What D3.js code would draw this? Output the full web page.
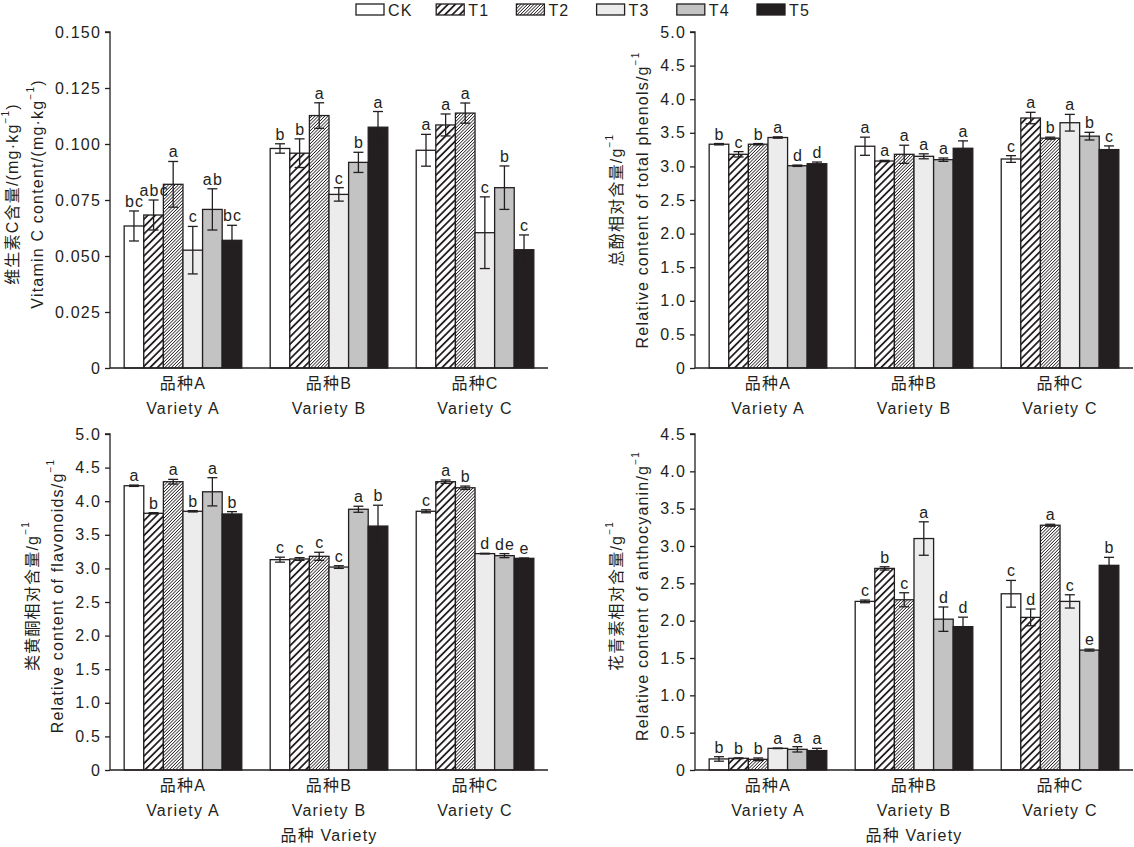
<!DOCTYPE html>
<html>
<head>
<meta charset="utf-8">
<script src="https://cdn.jsdelivr.net/npm/d3@7"></script>
<style>
  body { margin: 0; background: #fff; }
  svg text { font-family: "Liberation Sans", Arial, "Noto Sans CJK SC", sans-serif; fill: #231f20; letter-spacing: 1.2px; }
</style>
</head>
<body>
<div id="chart"></div>
<script>
// categories and treatments
const varieties = ['品种A', '品种B', '品种C'];
const varietiesEn = ['Variety A', 'Variety B', 'Variety C'];
const treatments = ['CK', 'T1', 'T2', 'T3', 'T4', 'T5'];

// Vitamin C content (mg/kg), rows = variety, cols = treatment
const vcMean = [[0.0634, 0.0683, 0.0820, 0.0526, 0.0708, 0.0570],
                [0.0980, 0.0959, 0.1127, 0.0775, 0.0918, 0.1075],
                [0.0972, 0.1085, 0.1138, 0.0604, 0.0805, 0.0528]];
const vcErr  = [[0.0067, 0.0067, 0.0102, 0.0106, 0.0092, 0.0067],
                [0.0021, 0.0064, 0.0057, 0.0030, 0.0045, 0.0070],
                [0.0071, 0.0049, 0.0045, 0.0160, 0.0097, 0.0066]];
const vcSig  = [['bc', 'abc', 'a', 'c', 'ab', 'bc'],
                ['b', 'b', 'a', 'c', 'b', 'a'],
                ['a', 'a', 'a', 'c', 'b', 'c']];

// total phenols
const tpMean = [[3.33, 3.18, 3.33, 3.43, 3.01, 3.04],
                [3.30, 3.08, 3.18, 3.15, 3.10, 3.27],
                [3.11, 3.72, 3.42, 3.65, 3.45, 3.25]];
const tpErr  = [[0.01, 0.04, 0.01, 0.01, 0.01, 0.025],
                [0.135, 0.01, 0.135, 0.037, 0.025, 0.11],
                [0.05, 0.085, 0.015, 0.124, 0.057, 0.055]];
const tpSig  = [['b', 'c', 'b', 'a', 'd', 'd'],
                ['a', 'a', 'a', 'a', 'a', 'a'],
                ['c', 'a', 'b', 'a', 'b', 'c']];

// flavonoids
const flMean = [[4.23, 3.82, 4.29, 3.85, 4.14, 3.81],
                [3.13, 3.14, 3.18, 3.02, 3.88, 3.63],
                [3.85, 4.29, 4.20, 3.22, 3.19, 3.15]];
const flErr  = [[0.01, 0.01, 0.035, 0.01, 0.21, 0.035],
                [0.037, 0.02, 0.06, 0.02, 0.045, 0.31],
                [0.022, 0.025, 0.025, 0.005, 0.03, 0.005]];
const flSig  = [['a', 'b', 'a', 'b', 'a', 'b'],
                ['c', 'c', 'c', 'c', 'a', 'b'],
                ['c', 'a', 'b', 'd', 'de', 'e']];

// anthocyanin
const anMean = [[0.148, 0.157, 0.143, 0.29, 0.277, 0.26],
                [2.258, 2.70, 2.28, 3.10, 2.02, 1.92],
                [2.36, 2.044, 3.278, 2.258, 1.606, 2.741]];
const anErr  = [[0.03, 0.005, 0.018, 0.003, 0.036, 0.03],
                [0.018, 0.022, 0.094, 0.224, 0.163, 0.127],
                [0.179, 0.112, 0.013, 0.089, 0.013, 0.107]];
const anSig  = [['b', 'b', 'b', 'a', 'a', 'a'],
                ['c', 'b', 'c', 'a', 'd', 'd'],
                ['c', 'd', 'a', 'c', 'e', 'b']];

const vcTicks = [0, 0.025, 0.05, 0.075, 0.1, 0.125, 0.15];
const fiveTicks = [0, 0.5, 1, 1.5, 2, 2.5, 3, 3.5, 4, 4.5, 5];
const anTicks = [0, 0.5, 1, 1.5, 2, 2.5, 3, 3.5, 4, 4.5];

const ink = '#231f20';
const W = 1134, H = 847;

const svg = d3.select('#chart').append('svg')
  .attr('width', W).attr('height', H);

// patterns for T1 / T2
const defs = svg.append('defs');
function hatch(id, size, sw) {
  const p = defs.append('pattern')
    .attr('id', id)
    .attr('patternUnits', 'userSpaceOnUse')
    .attr('width', size).attr('height', size)
    .attr('patternTransform', 'rotate(45)');
  p.append('rect').attr('width', size).attr('height', size).attr('fill', '#fff');
  p.append('line')
    .attr('x1', size / 2).attr('y1', 0)
    .attr('x2', size / 2).attr('y2', size)
    .attr('stroke', ink).attr('stroke-width', sw);
}
hatch('hatchWide', 5.2, 1.8);
hatch('hatchFine', 2.3, 0.8);

const fills = ['#ffffff', 'url(#hatchWide)', 'url(#hatchFine)', '#ebeceb', '#c3c3c3', ink];

// legend
const legend = svg.append('g');
treatments.forEach((t, i) => {
  const x = 356 + i * 80.2;
  legend.append('rect')
    .attr('x', x).attr('y', 4).attr('width', 28).attr('height', 11)
    .attr('fill', fills[i]).attr('stroke', ink).attr('stroke-width', 1.3);
  legend.append('text')
    .attr('x', x + 32).attr('y', 16)
    .attr('font-size', 16)
    .text(t);
});

// one panel
function drawPanel(opt) {
  const g = svg.append('g');
  const x0 = d3.scaleBand()
    .domain(varieties)
    .range([opt.left, opt.left + 438])
    .paddingInner(0.1945)
    .paddingOuter(0.097);
  const x1 = d3.scaleBand()
    .domain(treatments)
    .range([0, x0.bandwidth()]);
  const y = d3.scaleLinear()
    .domain([0, opt.max])
    .range([opt.bottom, opt.top]);

  const barLayer = g.append('g');
  const labelLayer = g.append('g');

  // bars, error bars, letters
  varieties.forEach((v, vi) => {
    const grp = barLayer.append('g').attr('transform', `translate(${x0(v)},0)`);
    const lab = labelLayer.append('g').attr('transform', `translate(${x0(v)},0)`);
    treatments.forEach((t, ti) => {
      const val = opt.mean[vi][ti];
      const e = opt.err[vi][ti];
      const bx = x1(t);
      const bw = x1.bandwidth();
      grp.append('rect')
        .attr('x', bx).attr('y', y(val))
        .attr('width', bw).attr('height', y(0) - y(val))
        .attr('fill', fills[ti])
        .attr('stroke', ink).attr('stroke-width', 1.3);
      const cx = bx + bw / 2;
      const capW = 5;
      const eb = grp.append('g').attr('stroke', ink).attr('stroke-width', 1.3);
      eb.append('line').attr('x1', cx).attr('x2', cx).attr('y1', y(val - e)).attr('y2', y(val + e));
      eb.append('line').attr('x1', cx - capW).attr('x2', cx + capW).attr('y1', y(val + e)).attr('y2', y(val + e));
      eb.append('line').attr('x1', cx - capW).attr('x2', cx + capW).attr('y1', y(val - e)).attr('y2', y(val - e));
      lab.append('text')
        .attr('x', cx + 0.6).attr('y', y(val + e) - 4)
        .attr('text-anchor', 'middle')
        .attr('font-size', 16)
        .text(opt.sig[vi][ti]);
    });
  });

  // y axis
  const yAxis = d3.axisLeft(y)
    .tickValues(opt.ticks)
    .tickSize(5)
    .tickPadding(4)
    .tickFormat(d => d === 0 ? '0' : d3.format(opt.fmt)(d));
  const ya = g.append('g')
    .attr('transform', `translate(${opt.left},0)`)
    .call(yAxis);
  ya.select('.domain').attr('stroke', ink).attr('stroke-width', 1.3)
    .attr('d', `M-5,${opt.top}H0V${opt.bottom}`);
  ya.selectAll('.tick line').attr('stroke', ink).attr('stroke-width', 1.3);
  ya.selectAll('.tick text').attr('font-size', 16).attr('fill', ink)
    .style('font-family', '"Liberation Sans", Arial, sans-serif');

  // x axis line
  g.append('line')
    .attr('x1', opt.left).attr('x2', opt.left + 438)
    .attr('y1', opt.bottom).attr('y2', opt.bottom)
    .attr('stroke', ink).attr('stroke-width', 1.3);

  // category labels
  varieties.forEach((v, vi) => {
    const cx = x0(v) + x0.bandwidth() / 2;
    g.append('text')
      .attr('x', cx).attr('y', opt.bottom + 21)
      .attr('text-anchor', 'middle').attr('font-size', 16)
      .text(v);
    g.append('text')
      .attr('x', cx).attr('y', opt.bottom + 46)
      .attr('text-anchor', 'middle').attr('font-size', 16)
      .text(varietiesEn[vi]);
  });
  if (opt.xTitle) {
    g.append('text')
      .attr('x', opt.left + 219).attr('y', opt.bottom + 71)
      .attr('text-anchor', 'middle').attr('font-size', 16)
      .text(opt.xTitle);
  }

  // y titles, each line is [before superscript, after]
  const cy = (opt.top + opt.bottom) / 2 + opt.titleShift;
  opt.yTitles.forEach((parts, i) => {
    const t = g.append('text')
      .attr('transform', `translate(${opt.titleX[i]},${cy}) rotate(-90)`)
      .attr('text-anchor', 'middle')
      .attr('dominant-baseline', 'central')
      .attr('font-size', 16);
    t.append('tspan').text(parts[0]);
    t.append('tspan').attr('dy', -7).attr('font-size', 10).text('−1');
    if (parts[1]) t.append('tspan').attr('dy', 7).text(parts[1]);
  });
}

drawPanel({
  left: 110, top: 32, bottom: 368, max: 0.15, ticks: vcTicks, fmt: '.3f',
  mean: vcMean, err: vcErr, sig: vcSig,
  yTitles: [['维生素C含量/(mg·kg', ')'], ['Vitamin C content/(mg·kg', ')']],
  titleX: [12, 37], titleShift: -6
});
drawPanel({
  left: 695, top: 32, bottom: 368, max: 5, ticks: fiveTicks, fmt: '.1f',
  mean: tpMean, err: tpErr, sig: tpSig,
  yTitles: [['总酚相对含量/g', ''], ['Relative content of total phenols/g', '']],
  titleX: [616, 642], titleShift: 0
});
drawPanel({
  left: 110, top: 434, bottom: 770, max: 5, ticks: fiveTicks, fmt: '.1f',
  mean: flMean, err: flErr, sig: flSig,
  yTitles: [['类黄酮相对含量/g', ''], ['Relative content of flavonoids/g', '']],
  titleX: [32, 57], titleShift: -6, xTitle: '品种 Variety'
});
drawPanel({
  left: 695, top: 434, bottom: 770, max: 4.5, ticks: anTicks, fmt: '.1f',
  mean: anMean, err: anErr, sig: anSig,
  yTitles: [['花青素相对含量/g', ''], ['Relative content of anthocyanin/g', '']],
  titleX: [616, 642], titleShift: -6, xTitle: '品种 Variety'
});
</script>
</body>
</html>
